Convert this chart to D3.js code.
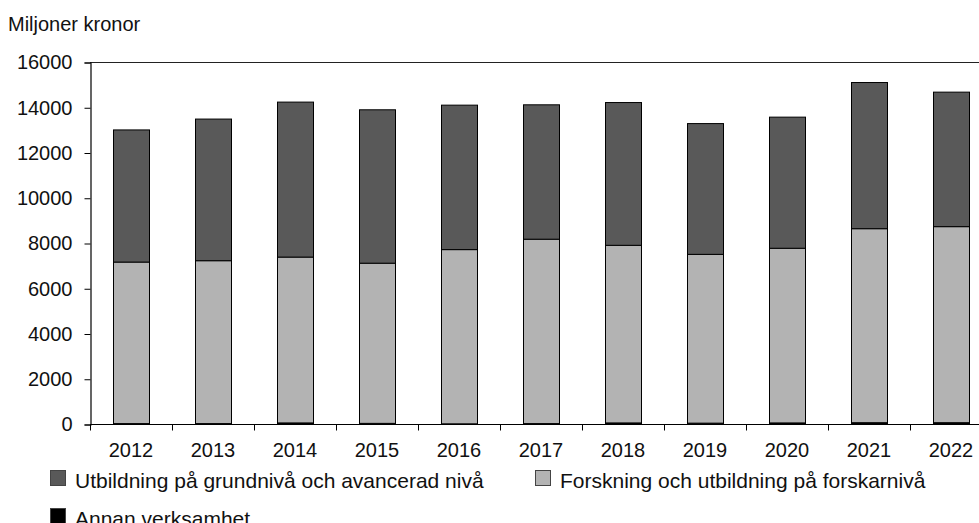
<!DOCTYPE html>
<html>
<head>
<meta charset="utf-8">
<script src="https://cdn.jsdelivr.net/npm/d3@7"></script>
<style>
  html, body { margin: 0; padding: 0; background: #fff; }
  svg { display: block; font-family: "Liberation Sans", Arial, sans-serif; }
</style>
</head>
<body>
<svg id="chart" width="979" height="523"></svg>
<script>
// Miljoner kronor per år och verksamhet
const years = ["2012","2013","2014","2015","2016","2017","2018","2019","2020","2021","2022"];
const utbildning = [5840, 6260, 6850, 6780, 6385, 5940, 6310, 5780, 5795, 6460, 5945];
const forskning  = [7140, 7200, 7330, 7080, 7700, 8150, 7850, 7460, 7720, 8575, 8665];
const annan      = [40, 40, 70, 50, 30, 40, 70, 60, 70, 80, 80];
const yTicks = [0, 2000, 4000, 6000, 8000, 10000, 12000, 14000, 16000];

const seriesNames = {
  annan: "Annan verksamhet",
  forskning: "Forskning och utbildning på forskarnivå",
  utbildning: "Utbildning på grundnivå och avancerad nivå"
};
const colors = { annan: "#000000", forskning: "#b3b3b3", utbildning: "#595959" };

const rows = years.map((yr, i) => ({
  year: yr, annan: annan[i], forskning: forskning[i], utbildning: utbildning[i]
}));

const svg = d3.select("#chart");
const plotLeft = 90, plotRight = 992, plotTop = 62.5, plotBottom = 424.5;

const x = d3.scaleBand().domain(years).range([plotLeft, plotRight])
  .paddingInner(0.56).paddingOuter(0.28);
const y = d3.scaleLinear().domain([0, 16000]).range([plotBottom, plotTop]);

const stack = d3.stack().keys(["annan", "forskning", "utbildning"]);
const layers = stack(rows);

// stacked bars
svg.append("g").selectAll("g").data(layers).join("g")
  .attr("fill", d => colors[d.key])
  .selectAll("rect").data(d => d).join("rect")
  .attr("x", d => Math.round(x(d.data.year)) + 0.5)
  .attr("y", d => y(d[1]))
  .attr("width", Math.round(x.bandwidth()))
  .attr("height", d => y(d[0]) - y(d[1]))
  .attr("stroke", "#000")
  .attr("stroke-width", 1);

// plot frame top line
svg.append("line")
  .attr("x1", plotLeft).attr("x2", plotRight)
  .attr("y1", plotTop).attr("y2", plotTop)
  .attr("stroke", "#222").attr("stroke-width", 1.2);

// y axis
const yAxis = svg.append("g").attr("transform", `translate(${plotLeft + 0.5},0)`)
  .call(d3.axisLeft(y).tickValues(yTicks).tickSize(6).tickPadding(12).tickFormat(d3.format("d")));
yAxis.select(".domain").attr("stroke", "#000").attr("stroke-width", 1.2);
yAxis.selectAll(".tick line").attr("stroke", "#000");
yAxis.selectAll("text").attr("font-size", 20).attr("fill", "#111")
  .attr("font-family", "Liberation Sans, Arial, sans-serif");

// x axis line with ticks at category boundaries
svg.append("line")
  .attr("x1", plotLeft).attr("x2", plotRight)
  .attr("y1", plotBottom).attr("y2", plotBottom)
  .attr("stroke", "#000").attr("stroke-width", 1.2);
const bounds = d3.range(years.length + 1).map(i => plotLeft + i * x.step());
svg.append("g").selectAll("line").data(bounds).join("line")
  .attr("x1", d => Math.round(d) + 0.5).attr("x2", d => Math.round(d) + 0.5)
  .attr("y1", plotBottom).attr("y2", plotBottom + 6)
  .attr("stroke", "#000");
svg.append("g").selectAll("text").data(years).join("text")
  .attr("x", d => x(d) + x.bandwidth() / 2)
  .attr("y", 456.5)
  .attr("text-anchor", "middle")
  .attr("font-size", 20)
  .attr("fill", "#111")
  .text(d => d);

// unit label
svg.append("text").attr("x", 8).attr("y", 31)
  .attr("font-size", 20).attr("fill", "#111")
  .text("Miljoner kronor");

// legend
const legendItems = [
  { key: "utbildning", x: 50, y: 470 },
  { key: "forskning", x: 535, y: 470 },
  { key: "annan", x: 50, y: 508 }
];
const lg = svg.append("g").selectAll("g").data(legendItems).join("g")
  .attr("transform", d => `translate(${d.x},${d.y})`);
lg.append("rect")
  .attr("x", 0.5).attr("y", 0.5).attr("width", 15).attr("height", 15)
  .attr("fill", d => colors[d.key])
  .attr("stroke", "#444");
lg.append("text")
  .attr("x", 25).attr("y", 18)
  .attr("font-size", 21)
  .attr("fill", "#111")
  .text(d => seriesNames[d.key]);
</script>
</body>
</html>
